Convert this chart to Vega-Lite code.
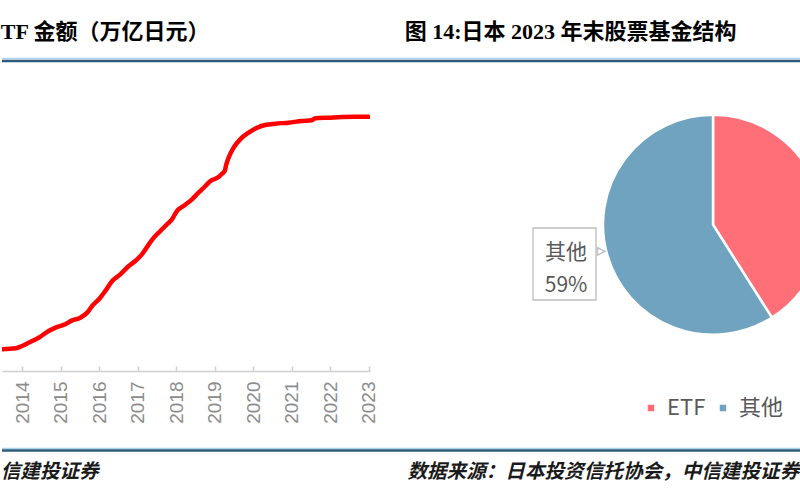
{
  "$schema": "https://vega.github.io/schema/vega-lite/v6.json",
  "padding": {"left": 0, "top": 0, "right": -21, "bottom": 0},
  "background": "white",
  "spacing": 0,
  "config": {
    "view": {"stroke": null},
    "font": "Noto Sans CJK SC"
  },
  "datasets": {
    "etf": [
      {"年份": 2013.48, "金额": 3.18}, {"年份": 2013.83, "金额": 3.32}, {"年份": 2014.0, "金额": 3.66},
      {"年份": 2014.17, "金额": 4.15}, {"年份": 2014.43, "金额": 4.88}, {"年份": 2014.69, "金额": 5.86},
      {"年份": 2014.87, "金额": 6.35}, {"年份": 2015.12, "金额": 6.84}, {"年份": 2015.3, "金额": 7.42},
      {"年份": 2015.51, "金额": 7.81}, {"年份": 2015.69, "金额": 8.55}, {"年份": 2015.82, "金额": 9.52},
      {"年份": 2016.03, "金额": 10.74}, {"年份": 2016.16, "金额": 11.72}, {"年份": 2016.34, "金额": 13.19},
      {"年份": 2016.55, "金额": 14.16}, {"年份": 2016.77, "金额": 15.38}, {"年份": 2016.94, "金额": 16.12},
      {"年份": 2017.11, "金额": 17.09}, {"年份": 2017.29, "金额": 18.56}, {"年份": 2017.42, "金额": 19.54},
      {"年份": 2017.59, "金额": 20.51}, {"年份": 2017.76, "金额": 21.49}, {"年份": 2017.89, "金额": 22.22},
      {"年份": 2018.02, "金额": 23.44}, {"年份": 2018.19, "金额": 24.18}, {"年份": 2018.41, "金额": 25.15},
      {"年份": 2018.58, "金额": 26.13}, {"年份": 2018.76, "金额": 27.11}, {"年份": 2018.89, "金额": 27.84},
      {"年份": 2019.1, "金额": 28.42}, {"年份": 2019.19, "金额": 28.91}, {"年份": 2019.26, "金额": 29.3},
      {"年份": 2019.29, "金额": 30.04}, {"年份": 2019.36, "金额": 31.26}, {"年份": 2019.49, "金额": 32.72},
      {"年份": 2019.66, "金额": 33.94}, {"年份": 2019.88, "金额": 34.92}, {"年份": 2020.1, "金额": 35.65},
      {"年份": 2020.31, "金额": 36.04}, {"年份": 2020.57, "金额": 36.24}, {"年份": 2020.92, "金额": 36.39},
      {"年份": 2021.26, "金额": 36.63}, {"年份": 2021.52, "金额": 36.73}, {"年份": 2021.61, "金额": 37.02},
      {"年份": 2021.96, "金额": 37.12}, {"年份": 2022.3, "金额": 37.22}, {"年份": 2022.65, "金额": 37.26},
      {"年份": 2023.0, "金额": 37.26}
    ],
    "pie": [
      {"类别": "ETF", "占比": 41, "标签": "ETF\n41%"},
      {"类别": "其他", "占比": 59, "标签": "其他\n59%"}
    ],
    "blank": [{}]
  },
  "vconcat": [
    {
      "bounds": "flush",
      "spacing": 0,
      "hconcat": [
        {
          "width": 400,
          "height": 61,
          "data": {"name": "blank"},
          "title": {"text": "TF 金额（万亿日元）", "anchor": "start", "orient": "top", "offset": -61, "baseline": "alphabetic", "font": "Liberation Serif, Noto Sans CJK SC", "fontSize": 22, "fontWeight": "bold", "color": "#000000"},
          "layer": [
            {"mark": {"type": "rule", "color": "#A9D3EE", "strokeWidth": 1.5, "yOffset": -2.5}, "encoding": {"y": {"value": "height"}}},
            {"mark": {"type": "rule", "color": "#2E5B7A", "strokeWidth": 2.5}, "encoding": {"y": {"value": "height"}}}
          ]
        },
        {
          "width": 400,
          "height": 61,
          "data": {"name": "blank"},
          "title": {"text": "图 14:日本 2023 年末股票基金结构", "anchor": "start", "orient": "top", "offset": -61, "dx": 4, "baseline": "alphabetic", "font": "Liberation Serif, Noto Sans CJK SC", "fontSize": 22, "fontWeight": "bold", "color": "#000000"},
          "layer": [
            {"mark": {"type": "rule", "color": "#A9D3EE", "strokeWidth": 1.5, "yOffset": -2.5}, "encoding": {"y": {"value": "height"}}},
            {"mark": {"type": "rule", "color": "#2E5B7A", "strokeWidth": 2.5}, "encoding": {"y": {"value": "height"}}}
          ]
        }
      ]
    },
    {
      "bounds": "flush",
      "spacing": 254,
      "resolve": {"legend": {"color": "independent"}},
      "hconcat": [
        {
          "width": 368,
          "height": 308,
          "data": {"name": "etf"},
          "mark": {"type": "line", "color": "#FF0000", "strokeWidth": 4.5, "strokeCap": "round", "strokeJoin": "round", "interpolate": "monotone", "clip": true},
          "encoding": {
            "x": {
              "field": "年份", "type": "quantitative",
              "scale": {"domain": [2013.48, 2023.03], "nice": false, "zero": false},
              "axis": {"values": [2014, 2015, 2016, 2017, 2018, 2019, 2020, 2021, 2022, 2023], "format": "d", "labelAngle": -90, "labelAlign": "right", "labelBaseline": "middle", "labelFont": "Liberation Sans", "labelFontSize": 19, "labelColor": "#8C8C8C", "labelPadding": 15, "tickSize": -5, "tickColor": "#D0D0D0", "tickWidth": 1.5, "domainColor": "#D0D0D0", "domainWidth": 1.5, "grid": false, "title": null, "labelFlush": false, "labelOverlap": false}
            },
            "y": {"field": "金额", "type": "quantitative", "scale": {"domain": [0, 45.13], "nice": false}, "axis": null}
          }
        },
        {
          "width": 178,
          "height": 323.5,
          "data": {"name": "pie"},
          "encoding": {
            "theta": {"field": "占比", "type": "quantitative", "stack": true},
            "order": {"field": "类别", "sort": "ascending"}
          },
          "layer": [
            {
              "mark": {"type": "arc", "outerRadius": 110, "stroke": "#FFFFFF", "strokeWidth": 2.5},
              "encoding": {
                "color": {
                  "field": "类别", "type": "nominal",
                  "scale": {"domain": ["ETF", "其他"], "range": ["#FF6F78", "#6FA3C0"]},
                  "legend": {"orient": "bottom", "direction": "horizontal", "title": null, "symbolType": "square", "symbolSize": 42, "symbolStrokeWidth": 0, "labelFontSize": 22, "labelColor": "#595959", "labelFont": "Noto Sans CJK SC", "columnPadding": 6, "labelOffset": 5, "padding": 16, "offset": -6}
                }
              }
            },
            {
              "mark": {"type": "text", "font": "Noto Sans CJK SC", "fontSize": 72, "fill": "#FFFFFF", "stroke": "#BFBFBF", "strokeWidth": 1.3, "baseline": "middle", "dy": 2, "dx": 3},
              "encoding": {
                "detail": {"field": "类别"},
                "radius": {"value": {"expr": "datum['类别'] === 'ETF' ? 0 : 153"}},
                "text": {"condition": {"test": "datum['类别'] === 'ETF'", "value": ""}, "value": "▉"}
              }
            },
            {
              "mark": {"type": "text", "font": "DejaVu Sans", "fontSize": 10, "fill": "#FFFFFF", "stroke": "#BFBFBF", "strokeWidth": 1.3, "baseline": "middle", "align": "center", "dx": 35, "dy": -16},
              "encoding": {
                "detail": {"field": "类别"},
                "radius": {"value": {"expr": "datum['类别'] === 'ETF' ? 0 : 153"}},
                "text": {"condition": {"test": "datum['类别'] === 'ETF'", "value": ""}, "value": "▶"}
              }
            },
            {
              "mark": {"type": "text", "font": "Noto Sans CJK SC", "fontSize": 21, "lineHeight": 33, "lineBreak": "\n", "color": "#595959", "baseline": "middle", "dy": -14.5},
              "encoding": {
                "detail": {"field": "类别"},
                "radius": {"value": {"expr": "datum['类别'] === 'ETF' ? 0 : 153"}},
                "text": {"condition": {"test": "datum['类别'] === 'ETF'", "value": ""}, "field": "标签"}
              }
            }
          ]
        }
      ]
    },
    {
      "bounds": "flush",
      "spacing": 0,
      "hconcat": [
        {
          "width": 400,
          "height": 15.5,
          "data": {"name": "blank"},
          "title": {"text": "信建投证券", "anchor": "start", "orient": "bottom", "offset": 11, "baseline": "top", "font": "Noto Sans CJK SC", "fontSize": 19.6, "fontStyle": "italic", "fontWeight": "bold", "color": "#1A1A1A"},
          "layer": [
            {"mark": {"type": "rule", "color": "#A9D3EE", "strokeWidth": 1.5, "yOffset": -2}, "encoding": {"y": {"value": "height"}}},
            {"mark": {"type": "rule", "color": "#2E5B7A", "strokeWidth": 2.5}, "encoding": {"y": {"value": "height"}}}
          ]
        },
        {
          "width": 400,
          "height": 15.5,
          "data": {"name": "blank"},
          "title": {"text": "数据来源：日本投资信托协会，中信建投证券", "anchor": "end", "orient": "bottom", "offset": 11, "dx": -4, "baseline": "top", "font": "Noto Sans CJK SC", "fontSize": 19.6, "fontStyle": "italic", "fontWeight": "bold", "color": "#1A1A1A"},
          "layer": [
            {"mark": {"type": "rule", "color": "#A9D3EE", "strokeWidth": 1.5, "yOffset": -2}, "encoding": {"y": {"value": "height"}}},
            {"mark": {"type": "rule", "color": "#2E5B7A", "strokeWidth": 2.5}, "encoding": {"y": {"value": "height"}}}
          ]
        }
      ]
    }
  ]
}
